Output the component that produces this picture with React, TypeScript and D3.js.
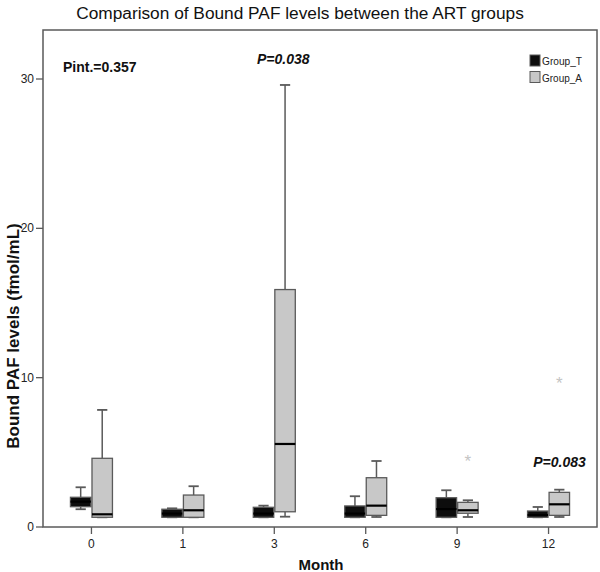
import React from "react";
import * as d3 from "d3";

const months = ["0", "1", "3", "6", "9", "12"];
const groups = ["Group_T", "Group_A"];
const yTicks = [0, 10, 20, 30];

// Group_T stats per month
const tMin = [1.19, 0.65, 0.65, 0.65, 0.65, 0.65];
const tQ1 = [1.36, 0.65, 0.65, 0.65, 0.65, 0.65];
const tMed = [1.7, 0.9, 0.9, 0.9, 1.2, 0.8];
const tQ3 = [1.99, 1.19, 1.32, 1.41, 1.96, 1.07];
const tMax = [2.66, 1.25, 1.43, 2.06, 2.46, 1.34];

// Group_A stats per month
const aMin = [0.65, 0.65, 0.69, 0.67, 0.67, 0.67];
const aQ1 = [0.65, 0.65, 1.02, 0.78, 0.92, 0.78];
const aMed = [0.85, 1.12, 5.56, 1.43, 1.12, 1.52];
const aQ3 = [4.6, 2.14, 15.9, 3.3, 1.65, 2.32];
const aMax = [7.84, 2.73, 29.6, 4.42, 1.79, 2.5];

const outlierMonths = ["9", "12"];
const outlierGroups = ["Group_A", "Group_A"];
const outlierValues = [4.44, 9.62];

const pLabels = ["P=0.038", "P=0.083"];
const pMonths = ["3", "12"];
const pValues = [31.0, 4.0];

const statsFor = (g: string) =>
  g === "Group_T"
    ? { min: tMin, q1: tQ1, med: tMed, q3: tQ3, max: tMax }
    : { min: aMin, q1: aQ1, med: aMed, q3: aQ3, max: aMax };

const colors: Record<string, string> = { Group_T: "#0d0d0d", Group_A: "#c8c8c8" };

export default function App() {
  const W = 600, H = 572;
  const left = 43, right = 597, top = 30, bottom = 527;
  const x = d3.scalePoint<string>().domain(months).range([left, right]).padding(0.53);
  const y = d3.scaleLinear().domain([0, 30]).range([527, 79]);
  const inner = d3.scaleBand<string>().domain(groups).range([-21, 21]).paddingInner(0.05);
  const bw = inner.bandwidth();
  const axisColor = "#5a5a5a";
  const font = "'Liberation Sans', Arial, sans-serif";

  return (
    <svg width={W} height={H} style={{ position: "absolute", left: 0, top: 0, background: "#fff" }} fontFamily={font}>
      <rect x={0} y={0} width={W} height={H} fill="#fff" />
      <text x={300} y={19} textAnchor="middle" fontSize={17.3} fill="#111">
        Comparison of Bound PAF levels between the ART groups
      </text>
      {/* frame */}
      <rect x={left} y={top} width={right - left} height={bottom - top} fill="none" stroke={axisColor} strokeWidth={1.5} />
      {/* y ticks */}
      {yTicks.map((t) => (
        <g key={t}>
          <line x1={36} x2={left} y1={y(t)} y2={y(t)} stroke={axisColor} strokeWidth={1.3} />
          <text x={34} y={y(t) + 4} textAnchor="end" fontSize={12} fill="#222">{t}</text>
        </g>
      ))}
      {/* x ticks */}
      {months.map((m) => (
        <g key={m}>
          <line x1={x(m)!} x2={x(m)!} y1={bottom} y2={bottom + 7} stroke={axisColor} strokeWidth={1.3} />
          <text x={x(m)!} y={548} textAnchor="middle" fontSize={12} fill="#222">{m}</text>
        </g>
      ))}
      <text x={321} y={570} textAnchor="middle" fontSize={15} fontWeight="bold" fill="#111">Month</text>
      <text transform={`translate(19,336) rotate(-90)`} textAnchor="middle" fontSize={17} fontWeight="bold" fill="#111">
        Bound PAF levels (fmol/mL)
      </text>
      {/* boxes */}
      {groups.map((g) => {
        const s = statsFor(g);
        return months.map((m, i) => {
          const x0 = x(m)! + inner(g)!;
          const cx = x0 + bw / 2;
          const cap = bw / 2;
          return (
            <g key={g + m}>
              <line x1={cx} x2={cx} y1={y(s.q3[i])} y2={y(s.max[i])} stroke={axisColor} strokeWidth={1.5} />
              <line x1={cx} x2={cx} y1={y(s.q1[i])} y2={y(s.min[i])} stroke={axisColor} strokeWidth={1.5} />
              <line x1={cx - cap / 2} x2={cx + cap / 2} y1={y(s.max[i])} y2={y(s.max[i])} stroke={axisColor} strokeWidth={1.8} />
              <line x1={cx - cap / 2} x2={cx + cap / 2} y1={y(s.min[i])} y2={y(s.min[i])} stroke={axisColor} strokeWidth={1.8} />
              <rect x={x0} y={y(s.q3[i])} width={bw} height={Math.max(1, y(s.q1[i]) - y(s.q3[i]))}
                fill={colors[g]} stroke={axisColor} strokeWidth={1.3} />
              <line x1={x0} x2={x0 + bw} y1={y(s.med[i])} y2={y(s.med[i])} stroke="#000" strokeWidth={2.2} />
            </g>
          );
        });
      })}
      {/* outliers */}
      {outlierValues.map((v, i) => {
        const cx = x(outlierMonths[i])! + inner(outlierGroups[i])! + bw / 2;
        return (
          <text key={i} x={cx} y={y(v) + 6} textAnchor="middle" fontSize={17} fill="#c4c4c4">*</text>
        );
      })}
      {/* annotations */}
      <text x={63} y={72} fontSize={14} fontWeight="bold" fill="#111">Pint.=0.357</text>
      {pLabels.map((p, i) => (
        <text key={p} x={x(pMonths[i])! + (i === 0 ? 9 : 11)} y={y(pValues[i])} textAnchor="middle"
          fontSize={14} fontWeight="bold" fontStyle="italic" fill="#111">{p}</text>
      ))}
      {/* legend */}
      {groups.map((g, i) => (
        <g key={g}>
          <rect x={530} y={55 + i * 16.5} width={10} height={11} fill={colors[g]} stroke={axisColor} strokeWidth={1} />
          <text x={542} y={65 + i * 16.5} fontSize={11} fill="#222" textLength={40} lengthAdjust="spacingAndGlyphs">{g}</text>
        </g>
      ))}
    </svg>
  );
}
